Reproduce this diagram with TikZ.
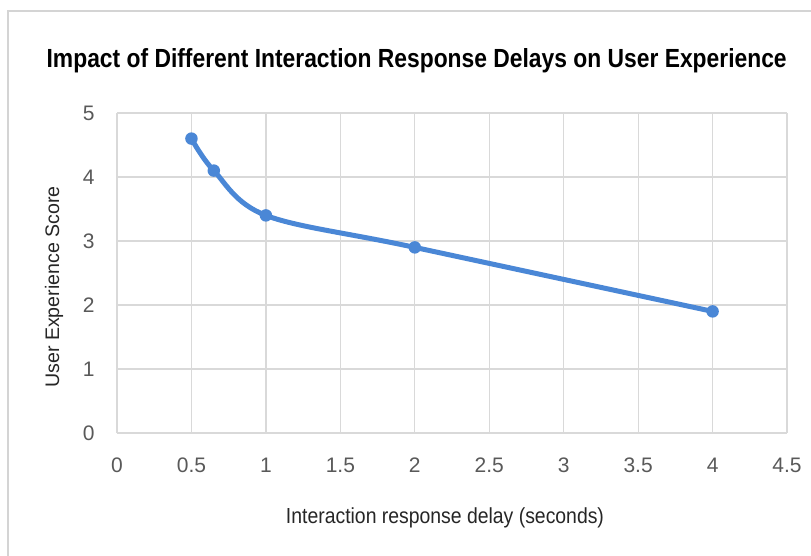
\documentclass[tikz,border=0pt]{standalone}
\usepackage{fontspec}
\usepackage{graphicx}
\setmainfont{Liberation Sans}
\definecolor{gridgray}{HTML}{D9D9D9}
\definecolor{framegray}{HTML}{D4D4D4}
\definecolor{ticktext}{HTML}{595959}
\definecolor{axistext}{HTML}{262626}
\definecolor{series}{HTML}{4A87D6}
\tikzset{
  gridline/.style={draw=gridgray, line width=1.3pt},
  ticklabel/.style={text=ticktext, font=\fontsize{21}{21}\selectfont, inner sep=0pt},
  axistitle/.style={text=axistext, inner sep=0pt},
  datapoint/.style={circle, fill=series, inner sep=0pt, minimum size=12.5pt},
  seriesline/.style={draw=series, line width=5pt, line cap=round, line join=round},
}
\begin{document}
\begin{tikzpicture}[x=1pt, y=-1pt]
  \useasboundingbox (0,0) rectangle (811,556);
  \fill[white] (0,0) rectangle (811,556);
  % chart frame, running off the right and bottom edges
  \draw[framegray, line width=1.5pt] (8,570) -- (8,11) -- (830,11);

  % title
  \node[anchor=base, inner sep=0pt] (title) at (416.7,67.3)
    {\resizebox{740pt}{19pt}{\bfseries Impact of Different Interaction Response Delays on User Experience}};

  % axis titles
  \node[axistitle, anchor=base] (xtitle) at (445,523)
    {\resizebox{318pt}{15.8pt}{\fontsize{20}{20}\selectfont Interaction response delay (seconds)}};
  \node[axistitle, anchor=base, rotate=90] (ytitle) at (59,287)
    {\fontsize{19.6}{19.6}\selectfont User Experience Score};

  \begin{scope}[shift={(117,433)}, x=148.9pt, y=64pt]
    % grid
    \foreach \v in {0,0.5,...,4.5}
      \draw[gridline] (\v,0) -- (\v,5);
    \foreach \v in {0,...,5}
      \draw[gridline] (0,\v) -- (4.5,\v);

    % tick labels
    \foreach \v/\t in {0/0,0.5/0.5,1/1,1.5/1.5,2/2,2.5/2.5,3/3,3.5/3.5,4/4,4.5/4.5}
      \node[ticklabel, anchor=center] (xt-\t) at (\v,-0.5) {\t};
    \foreach \v in {0,...,5}
      \node[ticklabel, anchor=east] (yt-\v) at (-0.15,\v) {\v};

    % data
    \coordinate (d1) at (0.5,4.6);
    \coordinate (d2) at (0.65,4.1);
    \coordinate (d3) at (1,3.4);
    \coordinate (d4) at (2,2.9);
    \coordinate (d5) at (4,1.9);
    \draw[seriesline] plot[smooth, tension=0.55] coordinates {(d1) (d2) (d3) (d4) (d5)};
    \foreach \p in {1,...,5}
      \node[datapoint] (m\p) at (d\p) {};
  \end{scope}
\end{tikzpicture}
\end{document}
